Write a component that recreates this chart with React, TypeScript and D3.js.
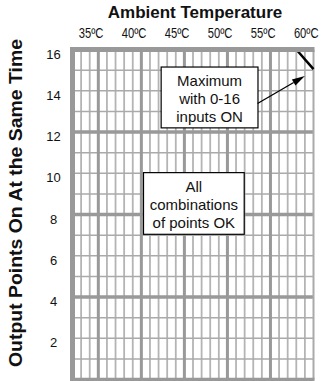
import React from "react";
import * as d3 from "d3";

const tempTicks = [35, 40, 45, 50, 55, 60];
const tempDomain = [32, 60];
const pointTicks = [2, 4, 6, 8, 10, 12, 14, 16];
const pointDomain = [0, 16];
const limitLine = [
  { t: 58, p: 16 },
  { t: 60, p: 15.05 },
];
const boxMax = { x0: 42.3, x1: 53.55, y0: 15.15, y1: 12.2, lines: ["Maximum", "with 0-16", "inputs ON"] };
const boxAll = { x0: 40.25, x1: 51.95, y0: 10.03, y1: 7.04, lines: ["All", "combinations", "of points OK"] };
const arrowFrom = { t: 53.5, p: 13.38 };
const arrowTo = { t: 59.0, p: 14.72 };

const W = 328;
const H = 381;
const FONT = "'Liberation Sans', Arial, Helvetica, sans-serif";

export default function App() {
  const x = d3.scaleLinear().domain(tempDomain).range([72.5, 313.5]);
  const y = d3.scaleLinear().domain(pointDomain).range([379.5, 49.5]);

  const minorT = d3.range(tempDomain[0] + 1, tempDomain[1]).filter((t) => t % 5 !== 0);
  const majorT = d3.range(tempDomain[0] + 1, tempDomain[1]).filter((t) => t % 5 === 0);
  const minorP = d3.range(1, 16).filter((p) => p % 4 !== 0);
  const majorP = d3.range(1, 16).filter((p) => p % 4 === 0);

  const line = d3
    .line<{ t: number; p: number }>()
    .x((d) => x(d.t))
    .y((d) => y(d.p));

  const renderBox = (b: typeof boxMax) => {
    const bx = x(b.x0);
    const by = y(b.y0);
    const bw = x(b.x1) - x(b.x0);
    const bh = y(b.y1) - y(b.y0);
    const cx = bx + bw / 2;
    return (
      <g>
        <rect x={bx} y={by} width={bw} height={bh} fill="#fff" stroke="#000" strokeWidth={1.2} />
        {b.lines.map((l, i) => (
          <text key={i} x={cx} y={by + 19 + i * 18} textAnchor="middle" fontSize={15} fontFamily={FONT} fill="#111">
            {l}
          </text>
        ))}
      </g>
    );
  };

  // arrow geometry
  const ax1 = x(arrowFrom.t), ay1 = y(arrowFrom.p);
  const ax2 = x(arrowTo.t), ay2 = y(arrowTo.p);
  const ang = Math.atan2(ay2 - ay1, ax2 - ax1);
  const headLen = 13;
  const headW = 3.5;
  const bxh = ax2 - headLen * Math.cos(ang);
  const byh = ay2 - headLen * Math.sin(ang);
  const px = -Math.sin(ang) * headW;
  const py = Math.cos(ang) * headW;

  return (
    <svg width={W} height={H} style={{ position: "absolute", left: 0, top: 0, background: "#fff" }}>
      <rect x={0} y={0} width={W} height={H} fill="#fff" />
      {/* minor verticals */}
      {minorT.map((t) => (
        <line key={"mv" + t} x1={x(t)} x2={x(t)} y1={y(16)} y2={y(0)} stroke="#b4b4b4" strokeWidth={1.8} />
      ))}
      {/* minor horizontals */}
      {minorP.map((p) => (
        <line key={"mh" + p} x1={x(32)} x2={x(60)} y1={y(p)} y2={y(p)} stroke="#aaaaaa" strokeWidth={1.5} />
      ))}
      {/* major verticals */}
      {majorT.map((t) => (
        <line key={"Mv" + t} x1={x(t)} x2={x(t)} y1={y(16)} y2={y(0)} stroke="#999" strokeWidth={3} />
      ))}
      {/* major horizontals */}
      {majorP.map((p) => (
        <line key={"Mh" + p} x1={x(32)} x2={x(60)} y1={y(p)} y2={y(p)} stroke="#999" strokeWidth={3.5} />
      ))}
      {/* right edge */}
      <line x1={x(60)} x2={x(60)} y1={y(16)} y2={y(0)} stroke="#aaa" strokeWidth={2} />
      {/* bottom edge */}
      <line x1={x(32) - 2.5} x2={x(60) + 1} y1={y(0)} y2={y(0)} stroke="#999" strokeWidth={3.5} />
      {/* limit line */}
      <path d={line(limitLine) || ""} stroke="#000" strokeWidth={2.5} fill="none" />
      {/* top edge */}
      <line x1={x(32) - 2.5} x2={x(60) + 1} y1={y(16)} y2={y(16)} stroke="#999" strokeWidth={5} />
      {/* left edge */}
      <line x1={x(32)} x2={x(32)} y1={y(16)} y2={y(0) + 1.5} stroke="#999" strokeWidth={5} />

      {renderBox(boxMax)}
      {renderBox(boxAll)}

      {/* arrow */}
      <line x1={ax1} y1={ay1} x2={bxh} y2={byh} stroke="#000" strokeWidth={1.3} />
      <path d={`M${ax2},${ay2} L${bxh + px},${byh + py} L${bxh - px},${byh - py} Z`} fill="#000" />

      {/* x tick labels */}
      {tempTicks.map((t) => (
        <g key={"xt" + t} transform={`translate(${x(t) + 5},38) scale(0.8,1)`}>
          <text x={0} y={0} textAnchor="end" fontSize={14} fontFamily={FONT} fill="#111">
            {t}ºC
          </text>
        </g>
      ))}
      {/* y tick labels */}
      {pointTicks.map((p) => (
        <text key={"yt" + p} x={53.5} y={y(p) + 9} textAnchor="middle" fontSize={13} fontFamily={FONT} fill="#111">
          {p}
        </text>
      ))}
      {/* titles */}
      <text x={195} y={18} textAnchor="middle" fontSize={17} fontWeight="bold" fontFamily={FONT} fill="#111">
        Ambient Temperature
      </text>
      <text
        transform={`translate(22,203) rotate(-90)`}
        textAnchor="middle"
        fontSize={18}
        fontWeight="bold"
        fontFamily={FONT}
        textLength={328}
        lengthAdjust="spacingAndGlyphs"
        fill="#111"
      >
        Output Points On At the Same Time
      </text>
    </svg>
  );
}
